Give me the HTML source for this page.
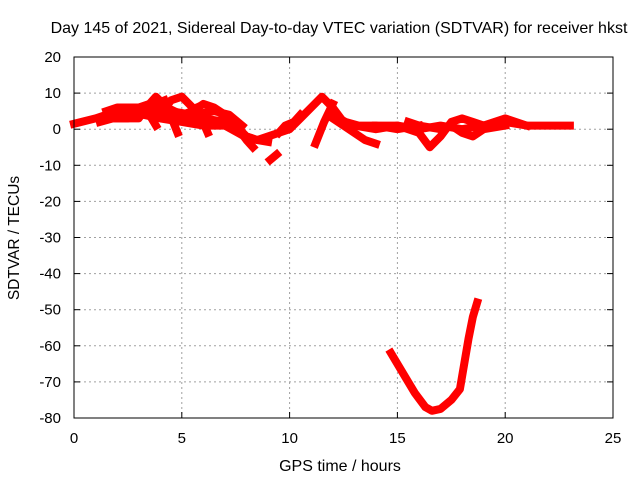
<!DOCTYPE html>
<html><head><meta charset="utf-8"><style>
body{margin:0;background:#fff}
svg{display:block;font-family:"Liberation Sans",sans-serif}
</style></head><body>
<svg id="chart" width="640" height="480">
<text x="339" y="33" font-size="16" text-anchor="middle">Day 145 of 2021, Sidereal Day-to-day VTEC variation (SDTVAR) for receiver hkst</text>
<text x="340" y="471" font-size="16" text-anchor="middle">GPS time / hours</text>
<text transform="translate(19,238) rotate(-90)" font-size="15.5" text-anchor="middle">SDTVAR / TECUs</text>
<g id="grid"></g><g id="ticks"></g><g id="series"></g>
<rect x="74" y="57" width="539" height="361" fill="none" stroke="#000"/>
</svg>
<script>
const xTicks=[0,5,10,15,20,25];
const yTicks=[20,10,0,-10,-20,-30,-40,-50,-60,-70,-80];
const trackA=[[0,1.5],[1,3],[1.5,4],[2,5],[3,5],[3.8,5],[5,4],[6,3],[7,2],[7.5,0],[8,-2],[8.5,-3],[9,-2],[9.5,-1],[10,0],[10.5,3],[11,6],[11.5,9],[12,6],[12.5,2],[13,1],[14,0],[15,1],[16,0],[17,1],[18,0],[19,1],[20,2],[21,1],[22,1],[23,1]];
const trackA2=[[1.2,2],[1.8,3],[2.5,3],[3.2,4],[4,3],[5,2],[6,1],[7,1],[7.6,-1],[8.2,-3]];
const trackA3=[[1.5,5],[2,6],[3,6],[3.5,7],[4.5,5],[5.5,4],[6.5,5],[7.2,4],[7.8,1]];
const trackB=[[2,3],[3,3],[3.5,7],[3.8,9],[4.3,6],[5,4],[5.5,5],[6,7],[6.5,6],[7,4],[7.5,1],[8,-3],[8.3,-5]];
const trackC=[[4,4],[4.5,8],[5,9],[5.5,6],[6,3],[6.5,2],[7,3],[7.5,1],[8,-2],[8.5,-3],[9,-3.5]];
const trackD=[[4.2,8],[4.8,-1]];
const trackD2=[[3.3,6],[3.8,1]];
const trackD3=[[5.7,6],[6.2,-1]];
const trackE=[[11.2,-4],[11.6,2],[12,7]];
const trackF=[[12,3],[12.5,1],[13,-1],[13.5,-3],[14,-4]];
const trackF2=[[12,4],[12.6,2],[13.2,1],[14,1],[15,0],[16,1]];
const trackG=[[14,1],[15,1],[16,-1],[16.5,-5],[17,-2],[17.5,2],[18,3],[18.5,2],[19,1],[20,3],[21,1]];
const trackH=[[15.5,2],[16,1],[17,0],[17.5,1],[18,-1],[18.5,-2],[19,0],[20,1]];
const trackI=[[9.1,-8.5],[9.4,-7]];
const trackJ=[[9.5,-1],[9.8,1],[10.2,2],[10.5,4]];
const trackLow=[[14.7,-62],[15.3,-68],[15.8,-73],[16.3,-77],[16.6,-78],[17,-77.5],[17.5,-75],[17.9,-72],[18.1,-65],[18.3,-58],[18.5,-52],[18.7,-48]];
const tracks=[trackA,trackA2,trackA3,trackB,trackC,trackD,trackD2,trackD3,trackE,trackF,trackF2,trackG,trackH,trackI,trackJ,trackLow];
const X=v=>74+v*539/25, Y=v=>57+(20-v)*361/100;
const NS="http://www.w3.org/2000/svg";
function mk(t,a,p){const e=document.createElementNS(NS,t);for(const k in a)e.setAttribute(k,a[k]);p.appendChild(e);return e;}
const grid=document.getElementById('grid'),ticks=document.getElementById('ticks'),ser=document.getElementById('series');
xTicks.forEach(v=>{const x=X(v);
 if(v>0&&v<25){const g=mk('line',{x1:x,x2:x,y1:57,y2:418,stroke:'#a0a0a0','stroke-dasharray':'2,3'},grid);
 
 }
 mk('line',{x1:x,x2:x,y1:418,y2:412,stroke:'#000'},ticks);mk('line',{x1:x,x2:x,y1:57,y2:63,stroke:'#000'},ticks);
 const t=mk('text',{x:x,y:443,'font-size':15,'text-anchor':'middle'},ticks);t.textContent=v;
 
 });
yTicks.forEach(v=>{const y=Y(v);
 if(v<20&&v>-80){const g=mk('line',{x1:74,x2:613,y1:y,y2:y,stroke:'#a0a0a0','stroke-dasharray':'2,3'},grid);
 
 }
 mk('line',{x1:74,x2:80,y1:y,y2:y,stroke:'#000'},ticks);mk('line',{x1:613,x2:607,y1:y,y2:y,stroke:'#000'},ticks);
 const t=mk('text',{x:61,y:y+5,'font-size':15,'text-anchor':'end'},ticks);t.textContent=v;
 
 });
tracks.forEach(tr=>{const p=mk('polyline',{points:tr.map(d=>X(d[0])+','+Y(d[1])).join(' '),fill:'none',stroke:'#ff0000','stroke-width':8,'stroke-linejoin':'round','stroke-linecap':'square'},ser);
 
 });
</script>
</body></html>
